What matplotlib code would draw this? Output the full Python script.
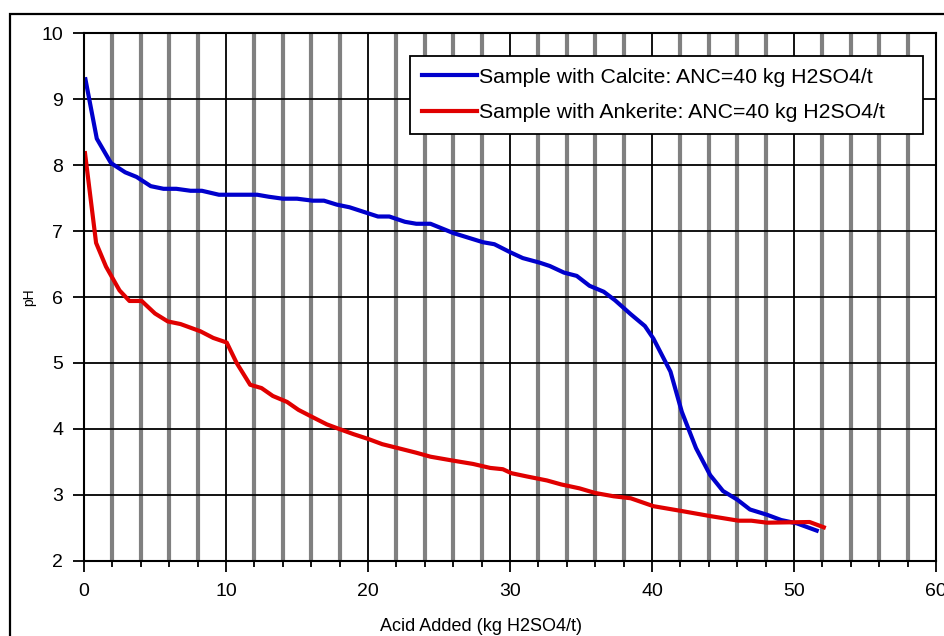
import matplotlib
matplotlib.use('Agg')
import matplotlib.pyplot as plt
from matplotlib.patches import Rectangle

plt.rcParams['font.family'] = ['Liberation Sans', 'DejaVu Sans']

# titration curves: acid added (kg H2SO4/t) vs pH
calcite_acid = [0.1, 0.9, 1.9, 2.9, 3.7, 4.7, 5.6, 6.5, 7.5, 8.3, 9.5, 10.5, 12.2, 13.0,
                14.0, 15.0, 16.1, 16.9, 17.8, 18.7, 19.7, 20.7, 21.5, 22.6, 23.4, 24.4,
                25.2, 26.0, 26.9, 28.1, 28.9, 30.0, 30.9, 32.1, 32.8, 33.8, 34.7, 35.6,
                36.6, 37.4, 38.5, 39.5, 40.1, 41.3, 42.1, 43.1, 44.1, 45.0, 46.0, 46.9,
                48.1, 49.1, 50.2, 51.6]
calcite_ph = [9.30, 8.40, 8.03, 7.89, 7.82, 7.68, 7.64, 7.64, 7.61, 7.61, 7.55, 7.55, 7.55, 7.52,
              7.49, 7.49, 7.46, 7.46, 7.40, 7.36, 7.29, 7.22, 7.22, 7.14, 7.11, 7.11,
              7.04, 6.97, 6.91, 6.83, 6.80, 6.68, 6.59, 6.52, 6.47, 6.37, 6.32, 6.17,
              6.08, 5.95, 5.74, 5.56, 5.37, 4.87, 4.26, 3.71, 3.30, 3.06, 2.93, 2.78,
              2.70, 2.62, 2.57, 2.46]

ankerite_acid = [0.07, 0.85, 1.55, 2.5, 3.2, 4.06, 5.0, 5.9, 6.8, 8.2, 9.1, 10.05, 10.75, 11.7,
                 12.5, 13.3, 14.3, 15.1, 16.0, 17.1, 18.1, 19.0, 20.0, 21.0, 22.3, 23.4,
                 24.4, 26.0, 27.4, 28.6, 29.5, 30.1, 31.2, 32.6, 33.6, 34.9, 36.0, 37.3,
                 38.5, 40.1, 42.0, 44.1, 46.1, 47.0, 48.1, 51.1, 52.1]
ankerite_ph = [8.18, 6.82, 6.46, 6.10, 5.94, 5.94, 5.75, 5.63, 5.59, 5.48, 5.38, 5.31, 5.00, 4.67,
               4.62, 4.50, 4.41, 4.29, 4.19, 4.07, 3.99, 3.92, 3.85, 3.77, 3.70, 3.64,
               3.58, 3.52, 3.47, 3.41, 3.39, 3.33, 3.28, 3.22, 3.16, 3.10, 3.03, 2.98,
               2.95, 2.83, 2.76, 2.68, 2.61, 2.61, 2.58, 2.59, 2.51]

fig = plt.figure(figsize=(9.44, 6.36), dpi=100)
ax = fig.add_axes([0.089, 0.118, 0.9025, 0.830])

# outer chart frame
fig.patches.append(Rectangle((0.0106, -0.1), 1.2, 1.078, transform=fig.transFigure,
                             fill=False, edgecolor='black', linewidth=1.6))

ax.set_xlim(0, 60)
ax.set_ylim(2, 10)
ax.set_xticks(range(0, 61, 10))
ax.set_xticks(range(0, 61, 2), minor=True)
ax.set_yticks(range(2, 11))

ax.grid(which='minor', axis='x', color='#808080', linewidth=3.0)
ax.grid(which='major', axis='x', color='black', linewidth=1.3)
ax.grid(which='major', axis='y', color='black', linewidth=1.3)
ax.set_axisbelow(True)

ax.plot(calcite_acid, calcite_ph, color='#0000cc', linewidth=3.0,
        label='Sample with Calcite: ANC=40 kg H2SO4/t')
ax.plot(ankerite_acid, ankerite_ph, color='#e00000', linewidth=3.0,
        label='Sample with Ankerite: ANC=40 kg H2SO4/t')

for s in ax.spines.values():
    s.set_linewidth(1.5)
ax.tick_params(which='major', direction='out', length=8, width=1.3, labelsize=14)
ax.tick_params(which='minor', direction='out', length=4, width=1.3)
ax.tick_params(axis='y', pad=7)
ax.tick_params(axis='x', pad=8)

fig.text(0.51, 0.0079, 'Acid Added (kg H2SO4/t)', ha='center', va='baseline', fontsize=13)
fig.text(0.031, 0.533, 'pH', ha='center', va='center', rotation=90, fontsize=10)

leg = ax.legend(loc='upper left', bbox_to_anchor=(0.3826, 0.5, 0.602, 0.4564),
                mode='expand', fontsize=15.3,
                frameon=True, fancybox=False, framealpha=1, edgecolor='black',
                handlelength=2.6, handletextpad=0.12, borderpad=0.55, labelspacing=0.78,
                borderaxespad=0)
leg.get_frame().set_linewidth(1.3)

fig.savefig('out.png', dpi=100)
